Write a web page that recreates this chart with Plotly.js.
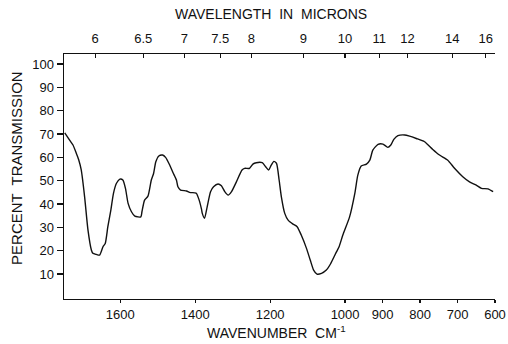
<!DOCTYPE html>
<html>
<head>
<meta charset="utf-8">
<script src="https://cdn.plot.ly/plotly-3.0.1.min.js"></script>
<style>html,body{margin:0;padding:0;background:#fff;}#chart{width:508px;height:344px;}</style>
</head>
<body>
<div id="chart"></div>
<script>
// Spectrum: wavenumber (cm-1) and percent transmission
const wavenumber = [1748,1735,1726,1717,1711,1704,1695,1686,1677,1673,1664,1655,1646,1640,1633,1625,1618,1610,1601,1593,1586,1579,1570,1561,1545,1542,1535,1526,1517,1511,1505,1497,1487,1479,1468,1459,1450,1446,1439,1423,1415,1401,1397,1390,1383,1381,1375,1368,1359,1351,1339,1330,1321,1312,1303,1290,1275,1268,1255,1246,1237,1221,1212,1204,1197,1190,1183,1176,1170,1161,1152,1139,1128,1117,1103,1093,1084,1075,1063,1050,1039,1023,1016,1006,988,974,966,957,943,934,926,912,899,886,878,870,859,841,828,810,788,766,748,726,708,686,668,650,636,619,605];
const transmission = [70.5,67.4,65.3,61.7,59.1,54.6,43.1,28.8,20.3,18.9,18.4,18.1,21.7,23.1,30.3,37.4,44.6,48.9,50.7,50.3,46.7,40.3,36.7,34.8,34.5,36.7,41.7,43.4,50.3,53.1,58.1,60.6,61.0,60.0,56.7,53.4,50.3,47.4,46.0,45.6,45.0,44.8,44.6,42.0,37.7,36.0,33.9,38.8,45.3,47.4,48.6,47.8,45.3,43.8,45.3,49.5,54.6,55.3,55.3,57.1,57.7,57.7,56.0,54.6,56.7,58.3,57.4,50.3,43.1,36.0,33.1,31.4,30.3,26.7,21.0,16.0,11.7,10.0,10.3,11.7,14.3,19.5,21.7,26.7,34.5,44.6,52.4,56.3,57.1,58.8,63.1,65.6,65.7,64.3,65.3,67.7,69.3,69.6,69.1,68.1,66.7,63.4,61.0,58.8,55.3,51.7,49.5,48.1,46.7,46.5,45.3];

// Axis ticks
const wnTicks = [1600,1400,1200,1000,900,800,700,600];
const micronTicks = [6,6.5,7,7.5,8,9,10,11,12,14,16];
const micronLabels = ["6","6.5","7","7.5","8","9","10","11","12","14","16"];
const yTicks = [10,20,30,40,50,60,70,80,90,100];

// Titles
const topTitle = "WAVELENGTH  IN  MICRONS";
const bottomTitle = "WAVENUMBER  CM<sup>-1</sup>";
const yTitle = "PERCENT  TRANSMISSION";

const micronPos = micronTicks.map(m => 10000 / m);
const FONT = "Liberation Sans, Arial, sans-serif";

const traces = [
  {x: wavenumber, y: transmission, type: "scatter", mode: "lines",
   line: {color: "#111", width: 1.4, shape: "spline", smoothing: 0.6},
   hoverinfo: "skip", showlegend: false},
  {x: micronPos, y: micronPos.map(() => null), xaxis: "x2", type: "scatter", mode: "lines",
   hoverinfo: "skip", showlegend: false}
];

const layout = {
  width: 508, height: 344,
  margin: {l: 64, r: 13, t: 54, b: 45},
  paper_bgcolor: "#fff", plot_bgcolor: "#fff",
  font: {family: FONT, color: "#111", size: 13},
  showlegend: false,
  xaxis: {
    range: [1750, 600], autorange: false,
    tickvals: wnTicks, ticktext: wnTicks.map(String),
    ticks: "outside", ticklen: 3, tickwidth: 1.2, tickcolor: "#111",
    showline: true, linecolor: "#111", linewidth: 1.4,
    showgrid: false, zeroline: false,
    tickfont: {size: 13, family: FONT}
  },
  xaxis2: {
    overlaying: "x", side: "top", anchor: "y",
    range: [1750, 600], autorange: false,
    tickvals: micronPos, ticktext: micronLabels,
    ticks: "inside", ticklen: 4, tickwidth: 1.2, tickcolor: "#111",
    ticklabelstandoff: 4,
    showline: true, linecolor: "#111", linewidth: 1.4,
    showgrid: false, zeroline: false,
    tickfont: {size: 13, family: FONT}
  },
  yaxis: {
    range: [-0.7, 104.3], autorange: false,
    tickvals: yTicks, ticktext: yTicks.map(String),
    ticks: "outside", ticklen: 6, tickwidth: 1.2, tickcolor: "#111",
    showline: true, linecolor: "#111", linewidth: 1.4,
    showgrid: false, zeroline: false,
    tickfont: {size: 13, family: FONT}
  },
  annotations: [
    {text: topTitle, xref: "paper", yref: "paper", x: 0.48, y: 1.163,
     xanchor: "center", yanchor: "middle", showarrow: false, font: {size: 14, family: FONT}},
    {text: bottomTitle, xref: "paper", yref: "paper", x: 0.494, y: -0.135,
     xanchor: "center", yanchor: "middle", showarrow: false, font: {size: 14, family: FONT}},
    {text: yTitle, xref: "paper", yref: "paper", x: -0.109, y: 0.535, textangle: -90,
     xanchor: "center", yanchor: "middle", showarrow: false, font: {size: 15, family: FONT}}
  ]
};

Plotly.newPlot("chart", traces, layout, {staticPlot: true, displayModeBar: false});
</script>
</body>
</html>
